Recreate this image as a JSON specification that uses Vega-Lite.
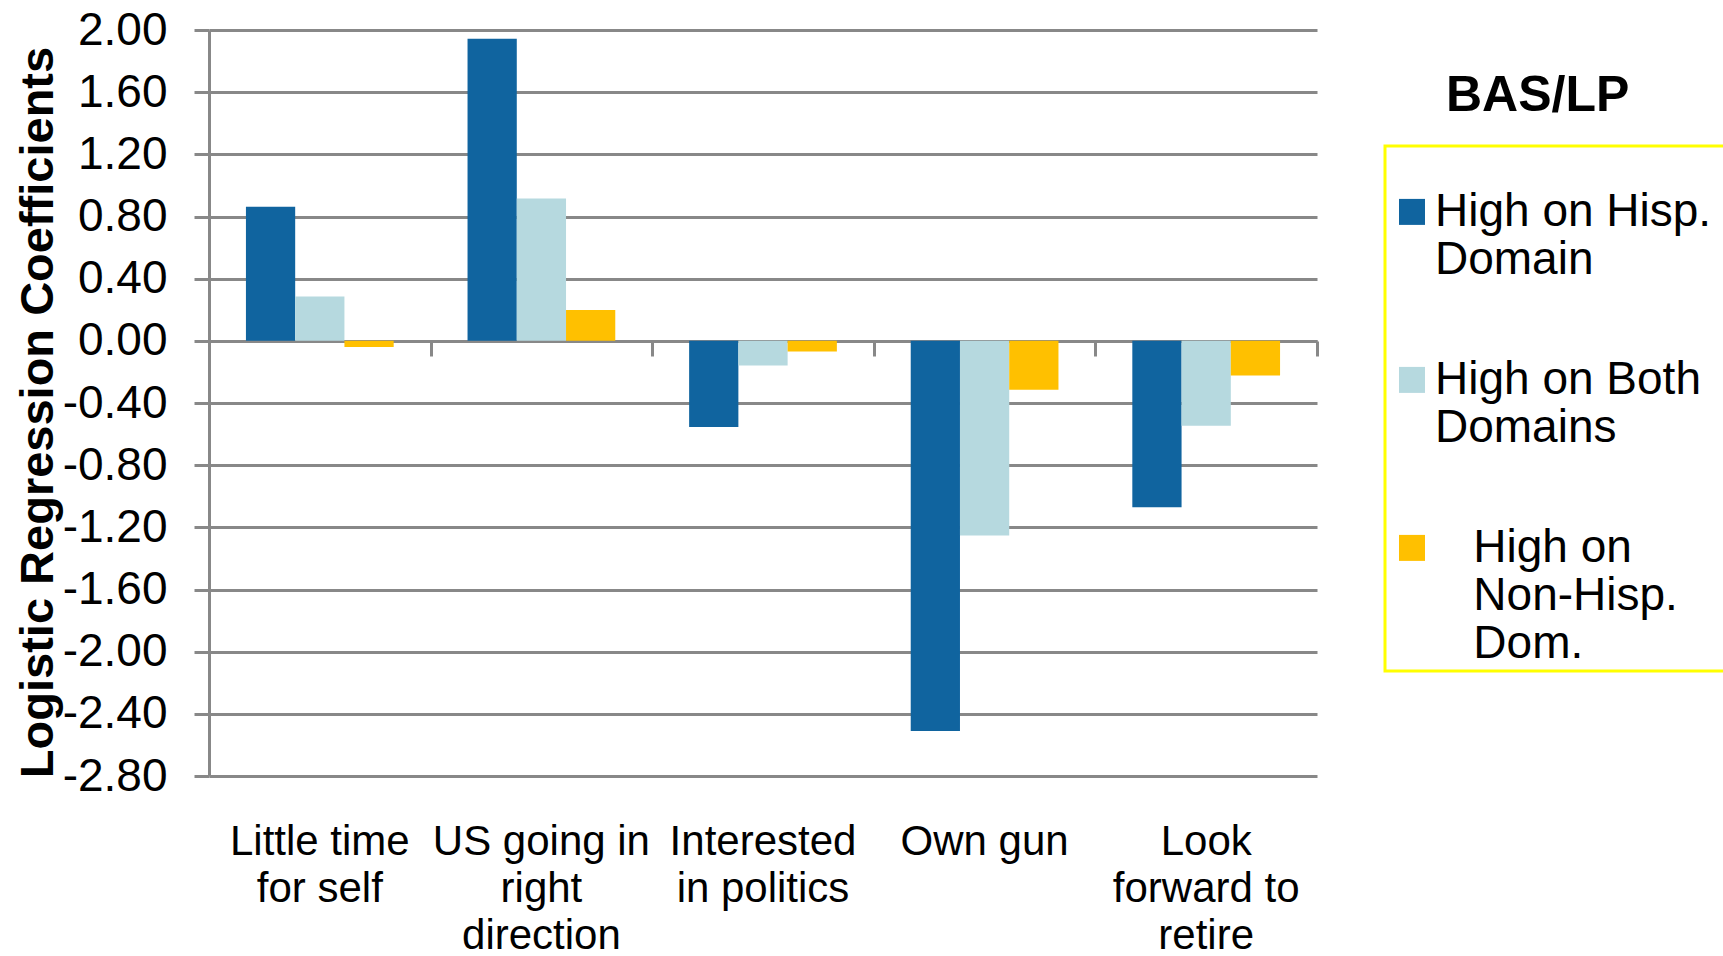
{
  "$schema": "https://vega.github.io/schema/vega-lite/v6.json",
  "width": 1108,
  "height": 746,
  "autosize": {"type": "none"},
  "padding": {"left": 209, "top": 30, "right": 406, "bottom": 180},
  "background": "white",
  "data": {
    "values": [
      {"item": "Little time|for self", "group": "High on Hisp. Domain", "coef": 0.862},
      {"item": "Little time|for self", "group": "High on Both Domains", "coef": 0.285},
      {"item": "Little time|for self", "group": "High on Non-Hisp. Dom.", "coef": -0.04},
      {"item": "US going in|right|direction", "group": "High on Hisp. Domain", "coef": 1.944},
      {"item": "US going in|right|direction", "group": "High on Both Domains", "coef": 0.916},
      {"item": "US going in|right|direction", "group": "High on Non-Hisp. Dom.", "coef": 0.199},
      {"item": "Interested|in politics", "group": "High on Hisp. Domain", "coef": -0.554},
      {"item": "Interested|in politics", "group": "High on Both Domains", "coef": -0.158},
      {"item": "Interested|in politics", "group": "High on Non-Hisp. Dom.", "coef": -0.068},
      {"item": "Own gun", "group": "High on Hisp. Domain", "coef": -2.51},
      {"item": "Own gun", "group": "High on Both Domains", "coef": -1.252},
      {"item": "Own gun", "group": "High on Non-Hisp. Dom.", "coef": -0.315},
      {"item": "Look|forward to|retire", "group": "High on Hisp. Domain", "coef": -1.07},
      {"item": "Look|forward to|retire", "group": "High on Both Domains", "coef": -0.546},
      {"item": "Look|forward to|retire", "group": "High on Non-Hisp. Dom.", "coef": -0.223}
    ]
  },
  "layer": [
    {
      "mark": {"type": "bar"},
      "encoding": {
        "x": {
          "field": "item", "type": "nominal", "sort": null,
          "scale": {"paddingInner": 0.3333, "paddingOuter": 0.1667},
          "axis": {
            "title": null, "orient": "bottom", "domain": false, "ticks": false, "tickSize": 0, "grid": false,
            "labelAngle": 0, "labelFont": "Liberation Sans", "labelFontSize": 42, "labelColor": "black",
            "labelLineHeight": 47, "labelPadding": 45, "labelLimit": 0,
            "labelExpr": "split(datum.label, '|')"
          }
        },
        "xOffset": {
          "field": "group", "type": "nominal",
          "sort": ["High on Hisp. Domain", "High on Both Domains", "High on Non-Hisp. Dom."],
          "scale": {"paddingInner": 0, "paddingOuter": 0}
        },
        "y": {
          "field": "coef", "type": "quantitative",
          "scale": {"domain": [-2.8, 2.0], "nice": false, "zero": false},
          "axis": {
            "values": [-2.8, -2.4, -2.0, -1.6, -1.2, -0.8, -0.4, 0, 0.4, 0.8, 1.2, 1.6, 2.0],
            "format": ".2f",
            "labelExpr": "replace(datum.label, '\u2212', '-')",
            "grid": true, "gridColor": "#888888", "gridWidth": 3,
            "domain": true, "domainColor": "#888888", "domainWidth": 3,
            "ticks": true, "tickSize": 15, "tickColor": "#888888", "tickWidth": 3,
            "labelFont": "Liberation Sans", "labelFontSize": 46, "labelColor": "black", "labelPadding": 27,
            "title": "Logistic Regression Coefficients",
            "titleFont": "Liberation Sans", "titleFontSize": 47, "titleFontWeight": "bold", "titleColor": "black",
            "titleAngle": 270, "titleAlign": "center", "titleBaseline": "middle",
            "titleX": -171, "titleY": 382
          }
        },
        "color": {
          "field": "group", "type": "nominal",
          "scale": {
            "domain": ["High on Hisp. Domain", "High on Both Domains", "High on Non-Hisp. Dom."],
            "range": ["#10649F", "#B6D9DF", "#FFC000"]
          },
          "legend": {
            "title": "\u200b\u00a0\u00a0\u00a0\u00a0\u00a0\u00a0\u00a0\u00a0\u00a0\u00a0\u00a0\u00a0\u00a0\u00a0\u00a0\u00a0\u00a0\u00a0\u00a0\u00a0\u00a0\u00a0\u00a0\u00a0\u00a0\u00a0\u00a0\u00a0\u00a0\u00a0\u00a0\u00a0\u00a0\u00a0\u00a0\u00a0\u00a0\u00a0\u00a0\u00a0\u00a0\u00a0\u00a0\u00a0\u00a0\u00a0\u00a0\u00a0\u00a0\u00a0\u00a0\u00a0\u00a0\u00a0\u00a0\u00a0\u00a0\u00a0\u00a0.",
            "titleFontSize": 19.9, "titlePadding": 19, "titleColor": "white", "titleLimit": 1000,
            "orient": "none", "legendX": 1176, "legendY": 116,
            "strokeColor": "#FFFF00", "padding": 4,
            "symbolType": "square", "symbolSize": 676, "symbolStrokeWidth": 0,
            "labelFont": "Liberation Sans", "labelFontSize": 46, "labelColor": "black",
            "labelLineHeight": 54, "labelOffset": 0, "labelLimit": 600, "rowPadding": 74,
            "labelBaseline": "middle",
            "labelExpr": "datum.label == 'High on Hisp. Domain' ? ['High on Hisp.', 'Domain'] : datum.label == 'High on Both Domains' ? ['High on Both', 'Domains'] : ['\u200b\u00a0\u00a0\u00a0High on', '\u200b\u00a0\u00a0\u00a0Non-Hisp.', '\u200b\u00a0\u00a0\u00a0Dom.']"
          }
        },
        "strokeDash": {
          "datum": "BAS/LP",
          "legend": {
            "title": "BAS/LP", "orient": "none", "legendX": 1237, "legendY": 41, "padding": 0,
            "titleFont": "Liberation Sans", "titleFontSize": 50, "titleFontWeight": "bold", "titleColor": "black",
            "titleLimit": 600,
            "symbolOpacity": 0, "symbolStrokeWidth": 0, "symbolSize": 0, "labelExpr": "''", "labelFontSize": 1
          }
        }
      }
    },
    {
      "mark": {"type": "rule", "opacity": 0},
      "encoding": {
        "x": {
          "field": "item", "type": "nominal", "sort": null,
          "scale": {"paddingInner": 0, "paddingOuter": 0},
          "axis": {
            "title": null, "orient": "bottom", "offset": -435, "labels": false, "grid": false,
            "domain": true, "domainColor": "#888888", "domainWidth": 3,
            "ticks": true, "tickSize": 15, "tickColor": "#888888", "tickWidth": 3, "tickBand": "extent"
          }
        }
      }
    }
  ],
  "resolve": {"scale": {"x": "independent"}, "axis": {"x": "independent"}},
  "config": {
    "view": {"stroke": null},
    "legend": {"strokeWidth": 3},
    "font": "Liberation Sans"
  }
}
